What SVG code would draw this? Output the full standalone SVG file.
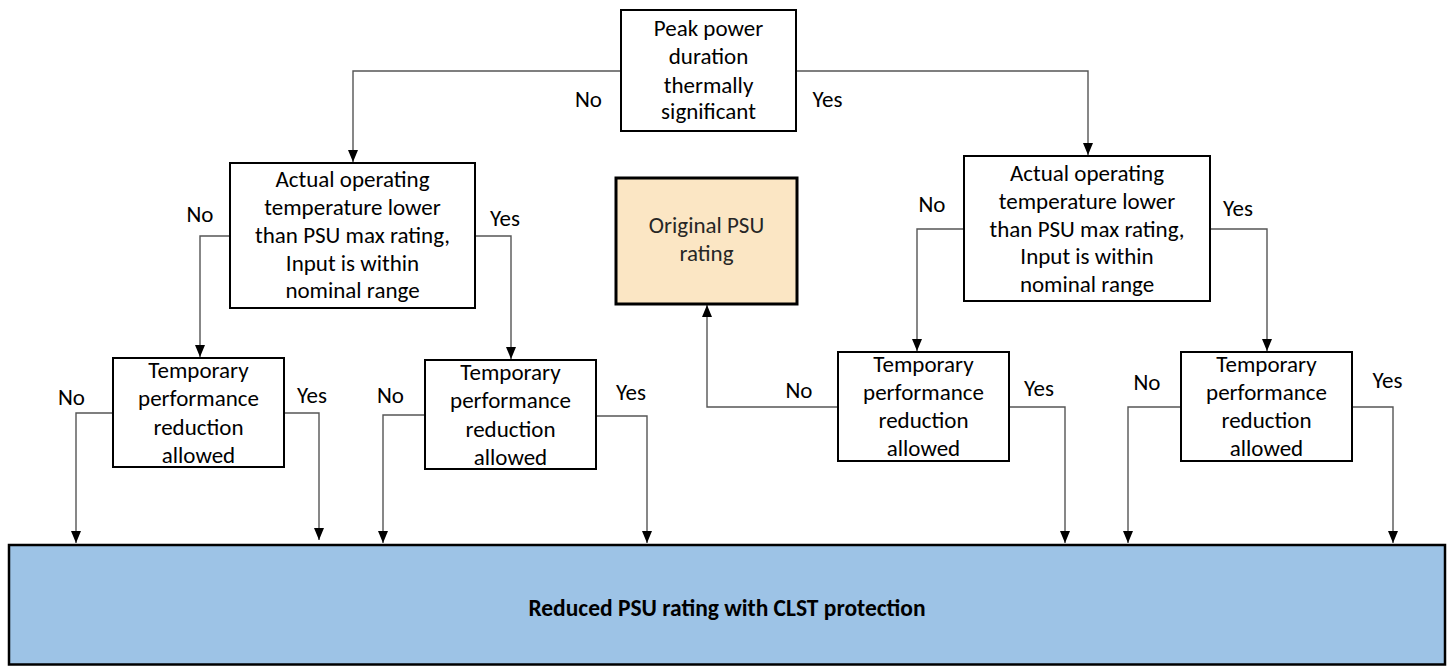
<svg xmlns="http://www.w3.org/2000/svg" width="1450" height="666" viewBox="0 0 1450 666">
<style>
text{font-family:Carlito,Calibri,"Liberation Sans",sans-serif;font-size:23px;fill:#000}
.c{text-anchor:middle}
.box{fill:#fff;stroke:#000;stroke-width:2}
.psu{fill:#FBE6C4;stroke:#000;stroke-width:3}
.base{fill:#9DC3E6;stroke:#000;stroke-width:2.5}
.ln{fill:none;stroke:#555;stroke-width:1.4;marker-end:url(#arr)}
.b{font-weight:bold}
</style>
<defs>
<marker id="arr" viewBox="0 0 12 10" refX="12" refY="5" markerWidth="12" markerHeight="10" markerUnits="userSpaceOnUse" orient="auto">
<path d="M0,0 L12,5 L0,10 z" fill="#000"/>
</marker>
</defs>
<g id="connectors">
<path class="ln" d="M621,71 H353 V162"/>
<path class="ln" d="M796,71 H1088 V155"/>
<path class="ln" d="M230,236 H200 V357"/>
<path class="ln" d="M475,236 H511 V359"/>
<path class="ln" d="M964,229 H917 V351"/>
<path class="ln" d="M1210,229 H1267 V351"/>
<path class="ln" d="M113,413 H76 V543"/>
<path class="ln" d="M284,413 H319 V540"/>
<path class="ln" d="M425,415 H383 V543"/>
<path class="ln" d="M596,416 H647 V543"/>
<path class="ln" d="M838,407 H707 V305"/>
<path class="ln" d="M1009,407 H1065 V543"/>
<path class="ln" d="M1181,407 H1128 V543"/>
<path class="ln" d="M1352,407 H1393 V543"/>
</g>
<g id="labels">
<text class="c" x="588.5" y="107">No</text>
<text class="c" x="827.5" y="107">Yes</text>
<text class="c" x="200" y="222">No</text>
<text class="c" x="505" y="226">Yes</text>
<text class="c" x="932" y="212">No</text>
<text class="c" x="1238" y="216">Yes</text>
<text class="c" x="71.5" y="405">No</text>
<text class="c" x="312" y="403">Yes</text>
<text class="c" x="390.5" y="403">No</text>
<text class="c" x="631" y="400">Yes</text>
<text class="c" x="799" y="398">No</text>
<text class="c" x="1039" y="396">Yes</text>
<text class="c" x="1147" y="390">No</text>
<text class="c" x="1387.5" y="388">Yes</text>
</g>
<g id="peak">
<rect class="box" x="621" y="10" width="175" height="121"/>
<text class="c" x="708.5" y="36">Peak power</text>
<text class="c" x="708.5" y="64">duration</text>
<text class="c" x="708.5" y="93">thermally</text>
<text class="c" x="708.5" y="119">significant</text>
</g>
<g id="temp-left">
<rect class="box" x="230" y="163" width="245" height="145"/>
<text class="c" x="352.5" y="187">Actual operating</text>
<text class="c" x="352.5" y="215">temperature lower</text>
<text class="c" x="352.5" y="243">than PSU max rating,</text>
<text class="c" x="352.5" y="271">Input is within</text>
<text class="c" x="352.5" y="298">nominal range</text>
</g>
<g id="temp-right">
<rect class="box" x="964" y="156" width="246" height="145"/>
<text class="c" x="1087" y="181">Actual operating</text>
<text class="c" x="1087" y="209">temperature lower</text>
<text class="c" x="1087" y="237">than PSU max rating,</text>
<text class="c" x="1087" y="264">Input is within</text>
<text class="c" x="1087" y="292">nominal range</text>
</g>
<g id="original-psu">
<rect class="psu" x="616" y="178" width="181" height="126"/>
<text class="c" x="706.5" y="233" style="fill:#262626">Original PSU</text>
<text class="c" x="706.5" y="261" style="fill:#262626">rating</text>
</g>
<g id="tpr1">
<rect class="box" x="113" y="358" width="171" height="109"/>
<text class="c" x="198.5" y="378">Temporary</text>
<text class="c" x="198.5" y="406">performance</text>
<text class="c" x="198.5" y="435">reduction</text>
<text class="c" x="198.5" y="463">allowed</text>
</g>
<g id="tpr2">
<rect class="box" x="425" y="360" width="171" height="109"/>
<text class="c" x="510.5" y="380">Temporary</text>
<text class="c" x="510.5" y="408">performance</text>
<text class="c" x="510.5" y="437">reduction</text>
<text class="c" x="510.5" y="465">allowed</text>
</g>
<g id="tpr3">
<rect class="box" x="838" y="352" width="171" height="109"/>
<text class="c" x="923.5" y="372">Temporary</text>
<text class="c" x="923.5" y="400">performance</text>
<text class="c" x="923.5" y="428">reduction</text>
<text class="c" x="923.5" y="456">allowed</text>
</g>
<g id="tpr4">
<rect class="box" x="1181" y="352" width="171" height="109"/>
<text class="c" x="1266.5" y="372">Temporary</text>
<text class="c" x="1266.5" y="400">performance</text>
<text class="c" x="1266.5" y="428">reduction</text>
<text class="c" x="1266.5" y="456">allowed</text>
</g>
<g id="reduced">
<rect class="base" x="9" y="545" width="1436" height="119.5"/>
<text class="c b" x="727" y="616" style="font-size:23.5px">Reduced PSU rating with CLST protection</text>
</g>
</svg>
